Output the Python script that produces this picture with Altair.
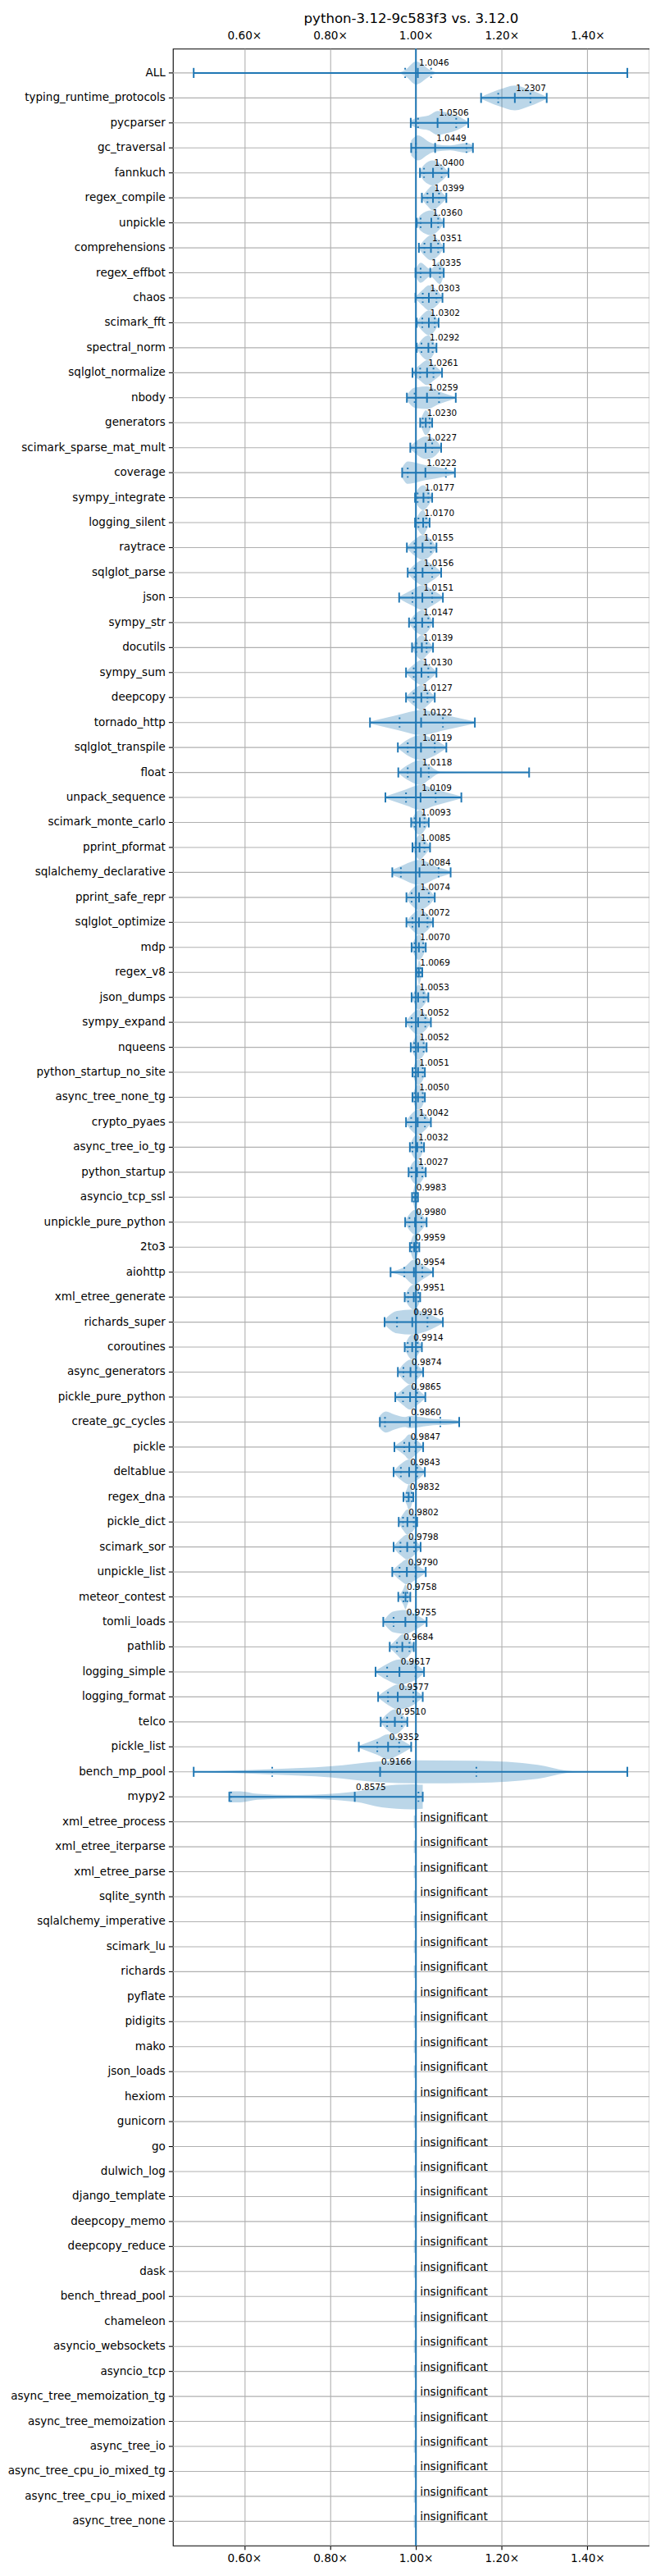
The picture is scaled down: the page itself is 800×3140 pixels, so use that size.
import altair as alt
import pandas as pd

chart_title = "python-3.12-9c583f3 vs. 3.12.0"

# significant benchmarks, top to bottom
names = [
    "ALL", "typing_runtime_protocols", "pycparser", "gc_traversal", "fannkuch",
    "regex_compile", "unpickle", "comprehensions", "regex_effbot", "chaos",
    "scimark_fft", "spectral_norm", "sqlglot_normalize", "nbody", "generators",
    "scimark_sparse_mat_mult", "coverage", "sympy_integrate", "logging_silent", "raytrace",
    "sqlglot_parse", "json", "sympy_str", "docutils", "sympy_sum",
    "deepcopy", "tornado_http", "sqlglot_transpile", "float", "unpack_sequence",
    "scimark_monte_carlo", "pprint_pformat", "sqlalchemy_declarative", "pprint_safe_repr", "sqlglot_optimize",
    "mdp", "regex_v8", "json_dumps", "sympy_expand", "nqueens",
    "python_startup_no_site", "async_tree_none_tg", "crypto_pyaes", "async_tree_io_tg", "python_startup",
    "asyncio_tcp_ssl", "unpickle_pure_python", "2to3", "aiohttp", "xml_etree_generate",
    "richards_super", "coroutines", "async_generators", "pickle_pure_python", "create_gc_cycles",
    "pickle", "deltablue", "regex_dna", "pickle_dict", "scimark_sor",
    "unpickle_list", "meteor_contest", "tomli_loads", "pathlib", "logging_simple",
    "logging_format", "telco", "pickle_list", "bench_mp_pool", "mypy2",
]
medians = [
    1.0046, 1.2307, 1.0506, 1.0449, 1.0400, 1.0399, 1.0360, 1.0351, 1.0335, 1.0303,
    1.0302, 1.0292, 1.0261, 1.0259, 1.0230, 1.0227, 1.0222, 1.0177, 1.0170, 1.0155,
    1.0156, 1.0151, 1.0147, 1.0139, 1.0130, 1.0127, 1.0122, 1.0119, 1.0118, 1.0109,
    1.0093, 1.0085, 1.0084, 1.0074, 1.0072, 1.0070, 1.0069, 1.0053, 1.0052, 1.0052,
    1.0051, 1.0050, 1.0042, 1.0032, 1.0027, 0.9983, 0.9980, 0.9959, 0.9954, 0.9951,
    0.9916, 0.9914, 0.9874, 0.9865, 0.9860, 0.9847, 0.9843, 0.9832, 0.9802, 0.9798,
    0.9790, 0.9758, 0.9755, 0.9684, 0.9617, 0.9577, 0.9510, 0.9352, 0.9166, 0.8575,
]
mins = [
    0.482, 1.152, 0.988, 0.989, 1.0095, 1.014, 1.002, 1.007, 0.999, 0.999,
    1.002, 1.002, 0.992, 0.979, 1.010, 0.987, 0.968, 0.998, 0.998, 0.979,
    0.981, 0.961, 0.984, 0.991, 0.977, 0.977, 0.893, 0.958, 0.959, 0.929,
    0.989, 0.992, 0.945, 0.978, 0.978, 0.990, 1.001, 0.990, 0.977, 0.988,
    0.992, 0.992, 0.977, 0.986, 0.983, 0.991, 0.975, 0.986, 0.941, 0.974,
    0.927, 0.974, 0.958, 0.952, 0.916, 0.950, 0.948, 0.971, 0.960, 0.948,
    0.945, 0.959, 0.924, 0.939, 0.906, 0.912, 0.918, 0.867, 0.482, 0.565,
]
q1s = [
    0.975, 1.192, 1.005, 1.000, 1.019, 1.027, 1.011, 1.020, 1.011, 1.016,
    1.015, 1.013, 1.010, 0.997, 1.016, 1.000, 0.981, 1.004, 1.006, 0.997,
    0.997, 0.992, 0.997, 1.001, 0.995, 0.995, 0.962, 0.981, 0.981, 0.977,
    0.997, 1.000, 0.965, 0.990, 0.992, 0.997, 1.005, 0.999, 0.990, 0.996,
    0.997, 0.997, 0.989, 0.992, 0.990, 0.995, 0.985, 0.990, 0.973, 0.982,
    0.956, 0.981, 0.971, 0.970, 0.928, 0.973, 0.965, 0.979, 0.970, 0.964,
    0.962, 0.971, 0.948, 0.956, 0.933, 0.935, 0.933, 0.910, 0.665, 0.569,
]
q3s = [
    1.0355, 1.267, 1.094, 1.118, 1.060, 1.054, 1.052, 1.052, 1.056, 1.048,
    1.044, 1.039, 1.041, 1.054, 1.032, 1.038, 1.070, 1.029, 1.024, 1.035,
    1.038, 1.038, 1.029, 1.025, 1.029, 1.027, 1.063, 1.044, 1.030, 1.046,
    1.020, 1.020, 1.053, 1.030, 1.027, 1.017, 1.011, 1.018, 1.022, 1.018,
    1.016, 1.016, 1.021, 1.013, 1.015, 1.002, 1.013, 1.003, 1.015, 1.006,
    1.027, 1.004, 1.001, 1.003, 1.057, 0.999, 1.003, 0.990, 0.995, 0.996,
    0.999, 0.980, 1.000, 0.985, 0.999, 0.994, 0.967, 0.961, 1.141, 1.006,
]
maxs = [
    1.493, 1.305, 1.122, 1.133, 1.076, 1.071, 1.065, 1.065, 1.065, 1.062,
    1.053, 1.048, 1.061, 1.093, 1.038, 1.059, 1.091, 1.038, 1.032, 1.048,
    1.059, 1.063, 1.040, 1.040, 1.048, 1.044, 1.1375, 1.071, 1.264, 1.106,
    1.030, 1.033, 1.081, 1.044, 1.040, 1.023, 1.015, 1.029, 1.035, 1.025,
    1.021, 1.021, 1.035, 1.019, 1.023, 1.005, 1.025, 1.008, 1.040, 1.010,
    1.063, 1.014, 1.017, 1.022, 1.101, 1.017, 1.021, 0.994, 1.003, 1.011,
    1.023, 0.987, 1.025, 0.995, 1.019, 1.016, 0.980, 0.989, 1.493, 1.016,
]

insignificant = [
    "xml_etree_process", "xml_etree_iterparse", "xml_etree_parse", "sqlite_synth",
    "sqlalchemy_imperative", "scimark_lu", "richards", "pyflate", "pidigits", "mako",
    "json_loads", "hexiom", "gunicorn", "go", "dulwich_log", "django_template",
    "deepcopy_memo", "deepcopy_reduce", "dask", "bench_thread_pool", "chameleon",
    "asyncio_websockets", "asyncio_tcp", "async_tree_memoization_tg",
    "async_tree_memoization", "async_tree_io", "async_tree_cpu_io_mixed_tg",
    "async_tree_cpu_io_mixed", "async_tree_none",
]

# violin half-widths (in rows) at min, q1, median, q3, max
default_widths = [0.04, 0.32, 0.5, 0.32, 0.04]
width_overrides = {
    "coverage": [0.2, 0.45, 0.3, 0.15, 0.05],
    "nbody": [0.1, 0.4, 0.45, 0.25, 0.03],
    "scimark_sparse_mat_mult": [0.05, 0.25, 0.45, 0.4, 0.05],
    "sqlalchemy_declarative": [0.1, 0.25, 0.5, 0.2, 0.05],
    "aiohttp": [0.03, 0.2, 0.5, 0.3, 0.03],
    "richards_super": [0.1, 0.45, 0.5, 0.35, 0.05],
    "tomli_loads": [0.03, 0.42, 0.48, 0.3, 0.03],
}

# odd shaped violins as (x, half-width) pairs
custom_profiles = {
    "ALL": [(0.482, 0.0), (0.955, 0.0), (0.975, 0.12), (1.0, 0.46), (1.0355, 0.1), (1.054, 0.0), (1.493, 0.0)],
    "pycparser": [(0.988, 0.1), (1.005, 0.22), (1.03, 0.3), (1.0506, 0.48), (1.075, 0.4), (1.094, 0.3), (1.122, 0.05)],
    "gc_traversal": [(0.989, 0.3), (1.005, 0.5), (1.03, 0.25), (1.0449, 0.15), (1.08, 0.1), (1.118, 0.2), (1.133, 0.1)],
    "regex_effbot": [(0.999, 0.1), (1.011, 0.4), (1.0335, 0.15), (1.056, 0.45), (1.065, 0.1)],
    "float": [(0.959, 0.03), (0.981, 0.3), (1.0118, 0.5), (1.030, 0.3), (1.058, 0.03), (1.264, 0.0)],
    "create_gc_cycles": [(0.916, 0.25), (0.93, 0.42), (0.95, 0.3), (0.975, 0.2), (0.986, 0.25), (1.01, 0.2),
                         (1.04, 0.13), (1.057, 0.12), (1.08, 0.1), (1.101, 0.05)],
    "bench_mp_pool": [(0.482, 0.0), (0.665, 0.11), (0.80, 0.22), (0.9166, 0.42), (1.0, 0.46), (1.141, 0.44),
                      (1.284, 0.28), (1.35, 0.05), (1.40, 0.0), (1.493, 0.0)],
    "mypy2": [(0.565, 0.22), (0.59, 0.22), (0.63, 0.12), (0.72, 0.07), (0.8575, 0.2), (0.92, 0.42),
              (0.99, 0.5), (1.016, 0.48)],
}

x_ticks = [0.6, 0.8, 1.0, 1.2, 1.4]

all_names = names + insignificant
n_rows = len(all_names)

# -----------------------
# tables
# -----------------------
stats_df = pd.DataFrame({
    "name": names, "row": range(len(names)),
    "median": medians, "min": mins, "q1": q1s, "q3": q3s, "max": maxs,
})

profile_rows = []
for i, n in enumerate(names):
    if n in custom_profiles:
        pts = custom_profiles[n]
    else:
        ws = width_overrides.get(n, default_widths)
        xs = [mins[i], q1s[i], medians[i], q3s[i], maxs[i]]
        pts = list(zip(xs, ws))
    for x, w in pts:
        profile_rows.append({"name": n, "row": i, "x": x, "w": w})
profile_df = pd.DataFrame(profile_rows)

tick_df = stats_df.melt(id_vars=["name", "row"], value_vars=["min", "max", "median", "q1", "q3"],
                        var_name="stat", value_name="x")
insig_df = pd.DataFrame({"name": insignificant, "row": range(len(names), n_rows), "x": 1.0})
rows_df = pd.DataFrame({"name": all_names, "row": range(n_rows)})

# -----------------------
# scales / axes
# -----------------------
FONT = "DejaVu Sans"
BLUE = "#1f77b4"
GRID = "#b0b0b0"
x_scale = alt.Scale(domain=[0.4335, 1.5445], nice=False, zero=False)
y_scale = alt.Scale(domain=[-0.97, n_rows - 1 + 0.97], reverse=True, nice=False, zero=False)

x_label = "format(datum.value, '.2f') + '\u00d7'"
axis_common = dict(
    values=x_ticks, labelExpr=x_label, title=None, domain=False,
    tickSize=5, tickColor="black", tickWidth=1.1,
    labelFont=FONT, labelFontSize=13.7, labelColor="black", labelPadding=4,
)
x_axis_bottom = alt.Axis(orient="bottom", grid=True, gridColor=GRID, gridWidth=1.1, **axis_common)
# top labels have no visible tick marks
x_axis_top = alt.Axis(orient="top", grid=False, tickOpacity=0, **axis_common)

# -----------------------
# layers
# -----------------------
# row grid lines, ticks and benchmark names
row_grid = (
    alt.Chart(rows_df)
    .mark_rule(color=GRID, strokeWidth=1.1)
    .encode(y=alt.Y("row:Q", scale=y_scale, axis=None))
)
row_ticks = (
    alt.Chart(rows_df)
    .mark_rule(color="black", strokeWidth=1.1)
    .encode(
        x=alt.value(-5), x2=alt.value(0),
        y=alt.Y("row:Q", scale=y_scale, axis=None),
    )
)
row_labels = (
    alt.Chart(rows_df)
    .mark_text(align="right", baseline="middle", font=FONT, fontSize=13.6, color="black")
    .encode(
        x=alt.value(-9),
        y=alt.Y("row:Q", scale=y_scale, axis=None),
        text="name:N",
    )
)

violins = (
    alt.Chart(profile_df)
    .transform_calculate(lo="datum.row - datum.w", hi="datum.row + datum.w")
    .mark_area(interpolate="monotone", color=BLUE, opacity=0.3, orient="vertical")
    .encode(
        x=alt.X("x:Q", scale=x_scale, axis=x_axis_bottom),
        y=alt.Y("lo:Q", scale=y_scale, axis=None),
        y2="hi:Q",
        detail="name:N",
    )
)

one_line = (
    alt.Chart(pd.DataFrame({"x": [1.0]}))
    .mark_rule(color=BLUE, strokeWidth=2)
    .encode(x=alt.X("x:Q", scale=x_scale, axis=x_axis_top))
)

whiskers = (
    alt.Chart(stats_df)
    .mark_rule(color=BLUE, strokeWidth=2)
    .encode(
        x=alt.X("min:Q", scale=x_scale, axis=None),
        x2="max:Q",
        y=alt.Y("row:Q", scale=y_scale, axis=None),
    )
)

caps = (
    alt.Chart(tick_df)
    .transform_filter("datum.stat == 'min' || datum.stat == 'max' || datum.stat == 'median'")
    .transform_calculate(lo="datum.row - 0.2", hi="datum.row + 0.2")
    .mark_rule(color=BLUE, strokeWidth=2)
    .encode(
        x=alt.X("x:Q", scale=x_scale, axis=None),
        y=alt.Y("lo:Q", scale=y_scale, axis=None),
        y2="hi:Q",
    )
)

quartiles = (
    alt.Chart(tick_df)
    .transform_filter("datum.stat == 'q1' || datum.stat == 'q3'")
    .transform_calculate(lo="datum.row - 0.2", hi="datum.row + 0.2")
    .mark_rule(color=BLUE, strokeWidth=2, strokeDash=[2, 3.3])
    .encode(
        x=alt.X("x:Q", scale=x_scale, axis=None),
        y=alt.Y("lo:Q", scale=y_scale, axis=None),
        y2="hi:Q",
    )
)

median_text = (
    alt.Chart(stats_df)
    .mark_text(align="left", baseline="alphabetic", dx=1.5, dy=-8.5, font=FONT, fontSize=10.5, color="black")
    .encode(
        x=alt.X("median:Q", scale=x_scale, axis=None),
        y=alt.Y("row:Q", scale=y_scale, axis=None),
        text=alt.Text("median:Q", format=".4f"),
    )
)

insig_ticks = (
    alt.Chart(insig_df)
    .transform_calculate(lo="datum.row - 0.25", hi="datum.row + 0.25")
    .mark_rule(color=BLUE, opacity=0.3, strokeWidth=2, xOffset=-1.5)
    .encode(
        x=alt.X("x:Q", scale=x_scale, axis=None),
        y=alt.Y("lo:Q", scale=y_scale, axis=None),
        y2="hi:Q",
    )
)

insig_text = (
    alt.Chart(insig_df)
    .mark_text(align="left", baseline="alphabetic", dx=5, dy=-1, font=FONT, fontSize=13.7, color="black")
    .encode(
        x=alt.X("x:Q", scale=x_scale, axis=None),
        y=alt.Y("row:Q", scale=y_scale, axis=None),
        text=alt.value("insignificant"),
    )
)

chart = (
    alt.layer(row_grid, row_ticks, row_labels, violins, one_line, whiskers, caps, quartiles,
              median_text, insig_ticks, insig_text)
    .resolve_axis(x="independent")
    .properties(
        width=584.5,
        height=3061,
        title=alt.TitleParams(chart_title, font=FONT, fontSize=16.7, fontWeight="normal",
                              color="black", anchor="middle", offset=5),
        autosize=alt.AutoSizeParams(type="none"),
        padding={"left": 204, "top": 42.7, "right": 0, "bottom": 20},
    )
    .configure_view(stroke="black", strokeWidth=1.1)
)

chart.save("out.html", embed_options={"renderer": "svg", "actions": False})
